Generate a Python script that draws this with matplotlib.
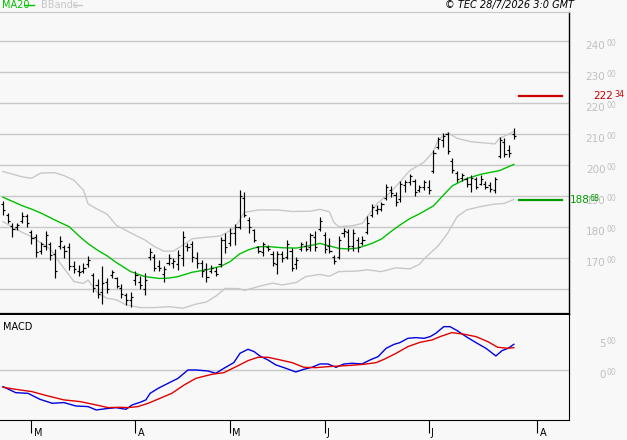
import pandas as pd
import matplotlib
matplotlib.use("Agg")
import matplotlib.pyplot as plt
from matplotlib.lines import Line2D

# trading days (index positions on the x axis)
holidays = pd.to_datetime(["2026-04-03", "2026-04-06", "2026-05-01"])
days = pd.bdate_range("2026-02-20", "2026-08-20")
days = days[~days.isin(holidays)]

# OHLC, one entry per session from 20/2 to 27/7
highs = [188.6, 184.7, 181.3, 181.5, 184.8, 184.2, 179.1, 177.8, 175.4, 178.8,
         175.1, 172.9, 177.2, 174.3, 174.8, 169.1, 167.8, 168.4, 170.9, 165.2,
         163.2, 167.5, 163.5, 166.2, 164.1, 161.7, 158.7, 159.2, 165.9, 164.4,
         165.2, 173.4, 171.3, 169.5, 167.6, 171.3, 170.0, 172.7, 178.8, 174.8,
         175.6, 172.0, 169.5, 168.6, 167.8, 167.3, 176.8, 178.1, 179.7, 181.0,
         192.0, 191.5, 183.4, 179.4, 174.0, 175.1, 174.3, 172.2, 172.2, 172.2,
         175.9, 173.2, 170.5, 175.4, 175.7, 178.1, 178.8, 183.2, 178.6, 176.5,
         171.1, 177.2, 179.7, 179.5, 179.5, 177.0, 177.2, 183.7, 187.4, 187.2,
         188.3, 194.0, 193.3, 191.5, 194.9, 195.3, 197.2, 195.5, 193.7, 195.3,
         195.3, 204.9, 209.2, 210.3, 210.9, 202.3, 198.0, 197.4, 196.3, 196.9,
         196.3, 196.9, 194.9, 194.7, 196.3, 209.0, 208.7, 206.6, 211.9]
lows = [184.0, 181.3, 177.0, 179.1, 181.3, 180.2, 174.5, 170.5, 171.3, 172.7,
        169.5, 163.5, 172.9, 170.0, 166.2, 165.2, 164.4, 165.4, 167.1, 159.0,
        157.1, 155.2, 158.7, 163.5, 160.3, 157.1, 154.9, 154.4, 161.4, 160.1,
        158.0, 169.5, 166.0, 166.0, 162.2, 167.8, 166.8, 166.2, 167.5, 172.2,
        168.9, 166.8, 164.1, 162.2, 165.2, 164.4, 167.3, 171.6, 174.0, 174.3,
        179.4, 183.2, 178.3, 175.1, 171.8, 170.9, 172.2, 167.5, 164.8, 168.9,
        169.7, 165.9, 166.5, 172.2, 172.2, 172.2, 172.2, 178.9, 171.6, 171.8,
        168.2, 169.7, 177.0, 172.5, 172.2, 171.9, 174.3, 177.8, 183.2, 184.3,
        185.1, 188.8, 189.9, 187.0, 188.3, 191.5, 193.7, 190.1, 191.5, 192.0,
        190.8, 197.4, 205.2, 206.0, 203.7, 197.4, 194.7, 194.9, 193.1, 191.5,
        192.3, 193.7, 192.3, 191.5, 191.0, 202.3, 202.6, 202.8, 208.4]
opens = [187.5, 184.0, 180.5, 180.0, 182.0, 183.5, 178.5, 177.0, 172.5, 174.0,
         174.5, 171.5, 174.0, 173.5, 173.5, 167.5, 166.0, 166.0, 168.0, 164.5,
         161.5, 159.0, 162.5, 164.5, 163.5, 160.5, 158.0, 156.5, 163.0, 162.5,
         160.0, 170.5, 170.5, 167.5, 165.0, 168.5, 168.5, 168.0, 170.0, 174.0,
         174.5, 170.0, 168.5, 166.5, 166.0, 166.0, 168.0, 176.0, 175.0, 178.0,
         180.0, 189.5, 182.5, 179.0, 173.5, 172.0, 173.5, 171.5, 168.0, 171.5,
         170.5, 172.5, 168.0, 173.0, 174.0, 173.5, 177.0, 179.5, 177.5, 174.0,
         170.5, 170.5, 178.0, 178.5, 174.0, 176.0, 175.0, 178.5, 184.0, 185.5,
         186.0, 189.5, 192.0, 190.5, 189.0, 193.5, 194.5, 195.0, 192.0, 193.0,
         193.0, 198.0, 206.0, 208.0, 210.0, 201.5, 197.5, 196.0, 195.5, 194.0,
         195.5, 194.0, 194.0, 193.5, 192.0, 203.0, 207.5, 205.0, 210.0]
closes = [185.5, 182.0, 179.5, 180.8, 183.5, 181.5, 176.5, 172.0, 174.5, 177.5,
          171.0, 166.0, 175.5, 172.5, 167.5, 166.5, 165.5, 167.0, 169.5, 160.5,
          158.5, 162.0, 160.0, 165.5, 161.0, 158.5, 156.5, 157.5, 164.5, 161.5,
          163.0, 172.0, 167.0, 167.0, 166.5, 170.0, 169.0, 171.0, 177.0, 173.5,
          170.5, 168.5, 166.0, 164.0, 166.8, 165.0, 176.0, 173.5, 178.0, 180.0,
          190.0, 184.0, 180.0, 176.0, 172.5, 174.5, 173.0, 168.5, 171.5, 170.0,
          174.5, 167.0, 169.5, 174.5, 173.0, 177.5, 173.5, 182.0, 173.0, 172.5,
          169.0, 176.0, 178.8, 174.0, 178.0, 173.5, 176.0, 181.5, 186.5, 186.0,
          187.5, 193.0, 191.0, 188.0, 194.0, 194.5, 196.5, 191.5, 193.0, 194.5,
          192.0, 204.0, 208.5, 209.5, 204.5, 198.5, 195.5, 197.0, 194.0, 196.0,
          193.0, 195.5, 193.0, 192.5, 195.5, 208.0, 203.5, 204.0, 209.5]

# MA20 and Bollinger bands, read at selected sessions
ma_idx = [0, 4, 6, 8, 10, 12, 14, 16, 18, 20, 22, 24, 27, 30, 33, 35, 37, 40, 43, 46,
          48, 50, 52, 54, 56, 59, 62, 65, 67, 69, 71, 73, 75, 78, 80, 82, 84, 86, 88,
          91, 93, 95, 98, 101, 105, 108]
ma_val = [189.7, 187.0, 185.9, 184.6, 183.1, 181.6, 180.2, 177.3, 174.7, 172.6, 170.8,
          168.6, 165.7, 164.1, 163.5, 163.6, 164.1, 165.5, 166.3, 167.4, 168.9, 171.4,
          172.8, 173.7, 173.8, 173.4, 173.3, 174.1, 174.8, 174.0, 173.2, 173.0, 173.3,
          174.8, 176.2, 178.6, 180.8, 182.8, 184.3, 186.9, 190.2, 193.4, 195.7, 197.1,
          198.3, 200.3]
up_idx = [0, 4, 6, 8, 11, 13, 15, 17, 18, 20, 22, 24, 27, 30, 32, 34, 36, 38, 40, 43,
          46, 49, 51, 54, 58, 61, 65, 67, 69, 70, 71, 74, 76, 77, 79, 82, 84, 86, 89,
          91, 92, 94, 96, 99, 104, 105, 108]
up_val = [198.0, 196.3, 195.8, 197.5, 197.6, 196.6, 195.2, 192.0, 187.5, 185.8, 184.2,
          180.6, 178.2, 175.9, 173.8, 172.3, 172.3, 174.2, 176.3, 176.8, 177.2, 179.8,
          184.8, 185.6, 185.6, 185.1, 185.2, 185.8, 185.0, 181.5, 180.2, 180.5, 181.3,
          183.4, 187.5, 191.4, 194.8, 198.3, 201.0, 204.4, 208.2, 210.5, 208.7, 207.6,
          206.9, 208.7, 210.9]
lo_idx = [0, 4, 6, 10, 12, 15, 17, 18, 20, 22, 24, 26, 29, 32, 35, 38, 41, 43, 45, 47,
          50, 51, 54, 57, 59, 62, 64, 67, 69, 71, 75, 77, 80, 83, 86, 88, 89, 92, 94,
          96, 98, 101, 104, 106, 108]
lo_val = [181.8, 178.4, 177.0, 173.0, 168.6, 162.5, 161.9, 163.0, 158.8, 157.1, 156.6,
          155.0, 154.1, 154.1, 154.4, 153.9, 155.3, 155.9, 157.8, 160.3, 160.2, 159.6,
          160.9, 162.0, 161.4, 162.2, 164.1, 164.8, 164.2, 165.7, 165.9, 166.3, 165.7,
          166.9, 166.6, 168.0, 169.8, 174.0, 178.1, 183.4, 185.6, 186.7, 187.5, 187.7,
          189.0]

# MACD (blue) and signal (red)
macd_idx = [0, 2.7, 5.3, 7.8, 10.4, 12.9, 15.4, 18.0, 19.7, 21.8, 23.9, 26.0, 27.3,
            29.0, 30.2, 31.1, 32.8, 34.9, 37.0, 39.1, 40.8, 43.3, 45.0, 46.7, 48.8,
            50.1, 51.8, 53.1, 54.3, 56.0, 57.7, 59.4, 61.9, 63.6, 65.3, 67.0, 68.7,
            70.4, 72.1, 73.8, 75.9, 77.6, 79.3, 81.0, 82.7, 83.9, 85.6, 87.3, 89.0,
            90.3, 91.5, 93.2, 94.5, 95.8, 97.9, 100.0, 102.1, 104.2, 105.5, 106.8, 108]
macd_val = [-2.64, -3.61, -3.72, -4.68, -5.32, -5.21, -5.76, -5.86, -6.40, -6.19, -6.03,
            -6.29, -5.59, -5.16, -4.78, -3.72, -2.91, -2.10, -1.30, 0.05, 0.05, -0.11,
            -0.48, 0.32, 1.24, 2.74, 3.39, 3.01, 2.31, 1.67, 0.86, 0.43, -0.27, 0.16,
            0.48, 1.02, 1.02, 0.48, 1.02, 1.13, 1.02, 1.67, 2.20, 3.55, 4.19, 4.46,
            5.16, 5.27, 5.16, 5.43, 5.97, 7.04, 7.04, 6.50, 5.43, 4.46, 3.55, 2.31,
            3.17, 3.55, 4.19]
sig_idx = [0, 2.7, 6.1, 9.5, 12.9, 16.3, 19.7, 22.2, 24.7, 26.4, 28.5, 30.7, 33.2,
           35.7, 38.3, 40.8, 44.2, 46.7, 49.3, 51.8, 53.9, 56.0, 58.6, 61.1, 63.6,
           66.2, 68.7, 71.3, 73.8, 76.3, 78.9, 80.6, 83.1, 85.6, 88.2, 90.7, 92.4,
           94.9, 97.5, 100.0, 102.5, 104.6, 106.8, 108]
sig_val = [-2.74, -3.07, -3.44, -4.14, -4.78, -5.05, -5.59, -6.02, -5.97, -6.02, -5.86,
           -5.32, -4.52, -3.71, -2.37, -1.29, -0.64, -0.38, 0.59, 1.56, 2.10, 2.10,
           1.67, 1.24, 0.48, 0.43, 0.59, 0.70, 0.81, 0.97, 1.24, 1.78, 2.74, 3.82,
           4.52, 4.89, 5.43, 6.08, 5.81, 5.43, 4.62, 3.71, 3.55, 3.66]

resistance = 222.34
support = 188.68
price_ticks = [170, 180, 190, 200, 210, 220, 230, 240]
price_grid = [160, 170, 180, 190, 200, 210, 220, 230, 240]
macd_ticks = [0, 5]
month_letters = ["M", "A", "M", "J", "J", "A"]

BG = "#f8f8f8"
GRID = "#c8c8c8"
LABEL = "#c0c0c0"

W, H = 627, 440
fig = plt.figure(figsize=(W / 100, H / 100), dpi=100, facecolor=BG)

x0, x1 = -0.634, 119.66
ax = fig.add_axes([0, 1 - 314.5 / H, 569 / W, (314.5 - 12) / H], facecolor=BG)
axm = fig.add_axes([0, 1 - 420 / H, 569 / W, (420 - 314.5) / H], facecolor=BG)

# ---- price panel ----
for g in price_grid:
    ax.axhline(g, color=GRID, lw=1.0, zorder=0)

ax.plot(up_idx, up_val, color=GRID, lw=1.0, zorder=1)
ax.plot(lo_idx, lo_val, color=GRID, lw=1.0, zorder=1)
ax.plot(ma_idx, ma_val, color="#00c000", lw=1.0, zorder=2)

idx = list(range(len(highs)))
ax.vlines(idx, lows, highs, color="black", lw=0.85, zorder=3)
ax.hlines(opens, [i - 0.45 for i in idx], idx, color="black", lw=0.85, zorder=3)
ax.hlines(closes, idx, [i + 0.45 for i in idx], color="black", lw=0.85, zorder=3)

tr = ax.get_yaxis_transform()
ax.plot([0.9127, 0.987], [resistance, resistance], color="#cc0000", lw=1.6, transform=tr)
ax.plot([0.9127, 0.987], [support, support], color="#009900", lw=1.6, transform=tr)

ax.set_xlim(x0, x1)
ax.set_ylim(151.87, 249.45)
ax.set_xticks([])
ax.set_yticks([])
ax.spines["left"].set_visible(False)
ax.spines["top"].set_color(GRID)
ax.spines["right"].set_color("black")
ax.spines["right"].set_linewidth(1.0)
ax.spines["bottom"].set_color("black")
ax.spines["bottom"].set_linewidth(1.6)


def axis_label(a, val, big, small, color, xb, xs, size=7.5):
    # big digits end at xb px right of the frame, small decimals start at xs
    a.annotate(big, xy=(1, val), xycoords=("axes fraction", "data"),
               xytext=(xb * 0.72, -5.2 * 0.72), textcoords="offset points",
               ha="right", va="center", fontsize=size, color=color, annotation_clip=False)
    a.annotate(small, xy=(1, val), xycoords=("axes fraction", "data"),
               xytext=(xs * 0.72, -2.6 * 0.72), textcoords="offset points",
               ha="left", va="center", fontsize=5.6, color=color, annotation_clip=False)


for t in price_ticks:
    axis_label(ax, t, str(t), "00", LABEL, 36.5, 37.5)


def level_label(a, val, big, small, color, xb, xs):
    a.annotate(big, xy=(1, val), xycoords=("axes fraction", "data"),
               xytext=(xb * 0.72, 0), textcoords="offset points",
               ha="left", va="center", fontsize=7.5, color=color, annotation_clip=False)
    a.annotate(small, xy=(1, val), xycoords=("axes fraction", "data"),
               xytext=(xs * 0.72, 1.5 * 0.72), textcoords="offset points",
               ha="left", va="center", fontsize=5.8, color=color, annotation_clip=False)


level_label(ax, resistance, "222", "34", "#cc0000", 24.5, 45)
level_label(ax, support, "188", "68", "#009900", 1, 20.5)

# ---- MACD panel ----
axm.axhline(0, color=GRID, lw=1.0, zorder=0)
axm.plot(macd_idx, macd_val, color="#0000e0", lw=1.0)
axm.plot(sig_idx, sig_val, color="#e00000", lw=1.0)
axm.set_xlim(x0, x1)
axm.set_ylim(-8.02, 9.0)
axm.spines["left"].set_visible(False)
axm.spines["top"].set_visible(False)
axm.spines["right"].set_color("black")
axm.spines["bottom"].set_color("black")
axm.set_yticks([])
axm.text(3 / 569, 1 - 12 / 105.5, "MACD", transform=axm.transAxes,
         fontsize=7, va="center", ha="left")
for t in macd_ticks:
    axis_label(axm, t, str(t), "00", LABEL, 36.5, 37.5)

# month ticks on first session of each month
starts = [i for i in range(1, len(days)) if days[i].month != days[i - 1].month]
axm.set_xticks(starts)
axm.set_xticklabels([])
axm.tick_params(axis="x", direction="out", length=9, width=0.8, color="black")
for pos, letter in zip(starts, month_letters):
    axm.annotate(letter, xy=(pos, 0), xycoords=("data", "axes fraction"),
                 xytext=(1.6, -9.5), textcoords="offset points",
                 ha="left", va="center", fontsize=7, annotation_clip=False)

# ---- header ----
fig.text(2 / W, 1 - 5 / H, "MA20", color="#00c000", fontsize=7, va="center")
fig.add_artist(Line2D([25 / W, 34 / W], [1 - 5 / H, 1 - 5 / H], color="#00c000", lw=1.0))
fig.text(41 / W, 1 - 5 / H, "BBands", color=GRID, fontsize=7, va="center")
fig.add_artist(Line2D([73 / W, 82 / W], [1 - 5 / H, 1 - 5 / H], color=GRID, lw=1.0))
fig.text(574 / W, 1 - 5 / H, "© TEC 28/7/2026 3:0 GMT", ha="right", va="center",
         fontsize=7, style="italic")

fig.savefig("out.png", dpi=100, facecolor=BG)
